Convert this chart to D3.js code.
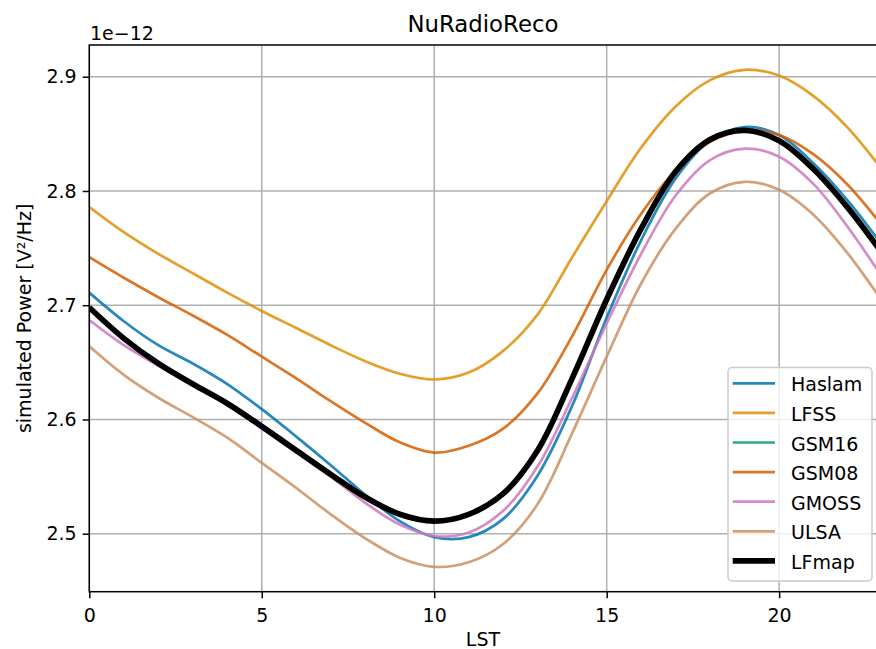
<!DOCTYPE html>
<html>
<head>
<meta charset="utf-8">
<script src="https://cdn.jsdelivr.net/npm/d3@7"></script>
<style>
  html, body { margin: 0; padding: 0; background: #ffffff; }
  svg { display: block; font-family: "DejaVu Sans", sans-serif; }
</style>
</head>
<body>
<svg id="chart" width="876" height="649"></svg>
<script>
// Local sidereal time (hours)
const lst = [0, 1, 2, 3, 4, 5, 6, 7, 8, 9, 10, 11, 12, 13, 14, 15, 16, 17, 18, 19, 20, 21, 22, 23];

// Simulated noise power per sky model, in units of 1e-12 V^2/Hz
const haslam = [2.711, 2.686, 2.665, 2.649, 2.631, 2.609, 2.585, 2.560, 2.534, 2.511, 2.497, 2.497,
                2.513, 2.551, 2.612, 2.689, 2.757, 2.811, 2.844, 2.856, 2.849, 2.824, 2.791, 2.752];
const lfss   = [2.786, 2.764, 2.745, 2.728, 2.711, 2.695, 2.680, 2.665, 2.651, 2.640, 2.635, 2.641,
                2.660, 2.692, 2.742, 2.791, 2.838, 2.874, 2.897, 2.906, 2.901, 2.883, 2.855, 2.818];
const gsm16  = [2.698, 2.671, 2.649, 2.631, 2.614, 2.594, 2.573, 2.552, 2.532, 2.517, 2.511, 2.517,
                2.535, 2.573, 2.636, 2.705, 2.767, 2.817, 2.845, 2.853, 2.844, 2.819, 2.785, 2.745];
const gsm08  = [2.742, 2.724, 2.707, 2.691, 2.674, 2.655, 2.636, 2.616, 2.597, 2.580, 2.571, 2.577,
                2.592, 2.623, 2.673, 2.731, 2.780, 2.818, 2.843, 2.853, 2.849, 2.832, 2.805, 2.769];
const gmoss  = [2.687, 2.665, 2.647, 2.630, 2.613, 2.592, 2.571, 2.550, 2.527, 2.508, 2.498, 2.501,
                2.520, 2.559, 2.619, 2.684, 2.745, 2.796, 2.827, 2.837, 2.830, 2.806, 2.768, 2.724];
const ulsa   = [2.664, 2.639, 2.619, 2.602, 2.584, 2.562, 2.540, 2.517, 2.496, 2.479, 2.471, 2.475,
                2.491, 2.526, 2.588, 2.655, 2.719, 2.767, 2.798, 2.808, 2.801, 2.779, 2.745, 2.703];
const lfmap  = [2.698, 2.671, 2.649, 2.631, 2.614, 2.594, 2.573, 2.552, 2.532, 2.517, 2.511, 2.517,
                2.535, 2.573, 2.636, 2.705, 2.767, 2.817, 2.845, 2.853, 2.844, 2.819, 2.785, 2.745];

const modelNames = ["Haslam", "LFSS", "GSM16", "GSM08", "GMOSS", "ULSA", "LFmap"];
const modelValues = [haslam, lfss, gsm16, gsm08, gmoss, ulsa, lfmap];
const modelColors = ["#0173B2", "#DE8F05", "#029E73", "#D55E00", "#CC78BC", "#CA9161", "#000000"];

const xTicks = [0, 5, 10, 15, 20];
const yTicks = [2.5, 2.6, 2.7, 2.8, 2.9];

const series = modelNames.map((name, i) => ({
  name,
  color: modelColors[i],
  width: name === "LFmap" ? 5.7 : 2.7,
  opacity: name === "LFmap" ? 1 : 0.85,
  points: lst.map((t, j) => ({ t, v: modelValues[i][j] }))
}));

const svg = d3.select("#chart");
const plotLeft = 89.3, plotRight = 882.6, plotTop = 45, plotBottom = 591.7;

// 5% padding on the value range
const allVals = modelValues.flat();
const vMin = d3.min(allVals), vMax = d3.max(allVals);
const pad = (vMax - vMin) * 0.05;

const x = d3.scaleLinear().domain([0, 23]).range([plotLeft, plotRight]);
const y = d3.scaleLinear().domain([vMin - pad, vMax + pad]).range([plotBottom, plotTop]);

svg.append("defs").append("clipPath").attr("id", "plot-area")
  .append("rect").attr("x", plotLeft).attr("y", plotTop)
  .attr("width", plotRight - plotLeft).attr("height", plotBottom - plotTop);

// Grid
const grid = svg.append("g").attr("stroke", "#b0b0b0").attr("stroke-width", 1.5);
grid.selectAll("line.gx").data(xTicks).join("line").attr("class", "gx")
  .attr("x1", d => x(d)).attr("x2", d => x(d))
  .attr("y1", plotTop).attr("y2", plotBottom);
grid.selectAll("line.gy").data(yTicks).join("line").attr("class", "gy")
  .attr("x1", plotLeft).attr("x2", plotRight)
  .attr("y1", d => y(d)).attr("y2", d => y(d));

// Lines
const line = d3.line().x(d => x(d.t)).y(d => y(d.v)).curve(d3.curveCatmullRom.alpha(0.5));
svg.append("g").attr("clip-path", "url(#plot-area)")
  .selectAll("path").data(series).join("path")
  .attr("fill", "none")
  .attr("stroke", d => d.color)
  .attr("stroke-opacity", d => d.opacity)
  .attr("stroke-width", d => d.width)
  .attr("stroke-linejoin", "round")
  .attr("stroke-linecap", "butt")
  .attr("d", d => line(d.points));

// Axes
const xAxis = d3.axisBottom(x).tickValues(xTicks).tickSize(6.6).tickPadding(6).tickFormat(d3.format("d"));
const yAxis = d3.axisLeft(y).tickValues(yTicks).tickSize(6.6).tickPadding(6).tickFormat(d3.format(".1f"));

const gx = svg.append("g").attr("transform", `translate(0,${plotBottom})`).call(xAxis);
const gy = svg.append("g").attr("transform", `translate(${plotLeft},0)`).call(yAxis);
[gx, gy].forEach(g => {
  g.select(".domain").remove();
  g.selectAll(".tick line").attr("stroke", "#000").attr("stroke-width", 1.5);
  g.selectAll(".tick text").attr("fill", "#000").style("font-size", "19px")
    .style("font-family", "'DejaVu Sans', sans-serif");
});
gx.selectAll(".tick text").attr("dy", "0.95em");

// Spines
svg.append("rect").attr("x", plotLeft).attr("y", plotTop)
  .attr("width", plotRight - plotLeft).attr("height", plotBottom - plotTop)
  .attr("fill", "none").attr("stroke", "#000").attr("stroke-width", 1.5);

// Texts
svg.append("text").attr("x", (plotLeft + plotRight) / 2 - 3).attr("y", 32)
  .attr("text-anchor", "middle").style("font-size", "22.8px").attr("fill", "#000")
  .text("NuRadioReco");
svg.append("text").attr("x", 90).attr("y", 39.5)
  .style("font-size", "19px").attr("fill", "#000").text("1e\u221212");
svg.append("text").attr("x", (plotLeft + plotRight) / 2 - 3).attr("y", 646)
  .attr("text-anchor", "middle").style("font-size", "19px").attr("fill", "#000")
  .text("LST");
svg.append("text")
  .attr("transform", `translate(31,${(plotTop + plotBottom) / 2}) rotate(-90)`)
  .attr("text-anchor", "middle").style("font-size", "19px").attr("fill", "#000")
  .text("simulated Power [V\u00b2/Hz]");

// Legend
const lg = svg.append("g");
lg.append("rect").attr("x", 728).attr("y", 367.5).attr("width", 144).attr("height", 213.5)
  .attr("rx", 4).attr("fill", "#ffffff").attr("fill-opacity", 0.8)
  .attr("stroke", "#cccccc").attr("stroke-width", 1.5);
const items = lg.selectAll("g.item").data(series).join("g").attr("class", "item")
  .attr("transform", (d, i) => `translate(0,${383.3 + i * 29.6})`);
items.append("line").attr("x1", 732.7).attr("x2", 775)
  .attr("stroke", d => d.color).attr("stroke-opacity", d => d.opacity)
  .attr("stroke-width", d => d.width);
items.append("text").attr("x", 791).attr("y", 8)
  .style("font-size", "19px").attr("fill", "#000").text(d => d.name);
</script>
</body>
</html>
